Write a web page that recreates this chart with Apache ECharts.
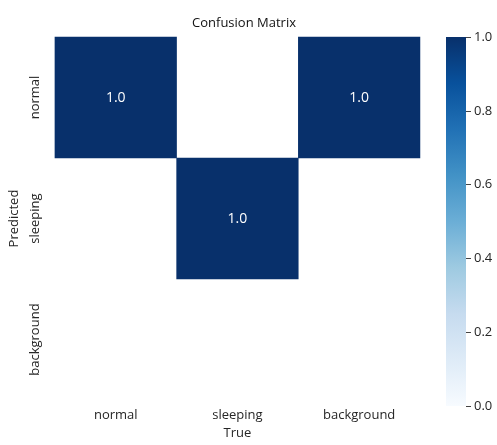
<!DOCTYPE html>
<html>
<head>
<meta charset="utf-8">
<style>
  html, body { margin: 0; padding: 0; background: #ffffff; }
  #chart { width: 497px; height: 445px; }
</style>
<script src="https://cdn.jsdelivr.net/npm/echarts@6/dist/echarts.min.js"></script>
</head>
<body>
<div id="chart"></div>
<script>
// Class names shared by both axes
const classes = ['normal', 'sleeping', 'background'];

// Normalised confusion matrix rows (predicted) x columns (true); empty cells are null
const rowNormal = [1.0, null, 1.0];
const rowSleeping = [null, 1.0, null];
const rowBackground = [null, null, null];
const matrix = [rowNormal, rowSleeping, rowBackground];

// Colour-bar ticks
const barTicks = [0, 0.2, 0.4, 0.6, 0.8, 1.0];

// "Blues" colour ramp
const blues = ['#f7fbff', '#deebf7', '#c6dbef', '#9ecae1', '#6baed6', '#4292c6', '#2171b5', '#08519c', '#08306b'];

const cells = [];
matrix.forEach((row, r) => {
  row.forEach((v, c) => {
    if (v !== null) cells.push([c, r, v]);
  });
});

const font = '"Open Sans", Lato, sans-serif';
const textColor = '#262626';

const chart = echarts.init(document.getElementById('chart'), null, { renderer: 'canvas' });

const gradientStops = blues.map((c, i) => ({ offset: 1 - i / (blues.length - 1), color: c }));

chart.setOption({
  animation: false,
  backgroundColor: '#ffffff',
  textStyle: { fontFamily: font },
  title: {
    text: 'Confusion Matrix',
    left: 239,
    top: 12,
    textAlign: 'center',
    textStyle: { fontFamily: font, fontSize: 13, fontWeight: 'normal', color: '#111' }
  },
  grid: [
    { left: 52, top: 37, width: 368, height: 369 },
    { left: 446, top: 37, width: 20, height: 369 }
  ],
  xAxis: [
    {
      type: 'category', gridIndex: 0, data: classes, position: 'bottom',
      axisLine: { show: false }, axisTick: { show: false }, splitLine: { show: false },
      axisLabel: { color: textColor, fontSize: 13, fontFamily: font, margin: 9 },
      name: 'True', nameLocation: 'middle', nameGap: 25,
      nameTextStyle: { color: textColor, fontSize: 13, fontFamily: font }
    },
    {
      type: 'category', gridIndex: 1, data: [''],
      axisLine: { show: false }, axisTick: { show: false }, axisLabel: { show: false }
    }
  ],
  yAxis: [
    {
      type: 'category', gridIndex: 0, data: classes, inverse: true,
      axisLine: { show: false }, axisTick: { show: false }, splitLine: { show: false },
      axisLabel: { color: textColor, fontSize: 13, fontFamily: font, rotate: 90, margin: 13 },
      name: 'Predicted', nameLocation: 'middle', nameGap: 22, nameRotate: 90,
      nameTextStyle: { color: textColor, fontSize: 13, fontFamily: font }
    },
    {
      type: 'value', gridIndex: 1, min: 0, max: 1, interval: 0.2, position: 'right',
      axisLine: { show: false }, splitLine: { show: false },
      axisTick: { show: true, length: 5, lineStyle: { color: '#444' } },
      axisLabel: {
        color: textColor, fontSize: 13, fontFamily: font, margin: 8,
        formatter: v => (barTicks.includes(+v.toFixed(1)) ? v.toFixed(1) : '')
      }
    }
  ],
  visualMap: {
    show: false, type: 'continuous', min: 0, max: 1, seriesIndex: 0,
    inRange: { color: blues }
  },
  series: [
    {
      type: 'heatmap', xAxisIndex: 0, yAxisIndex: 0, data: cells,
      label: {
        show: true, color: '#ffffff', fontSize: 14, fontFamily: font,
        formatter: p => p.value[2].toFixed(1)
      },
      itemStyle: { borderWidth: 0 }
    },
    {
      type: 'bar', xAxisIndex: 1, yAxisIndex: 1, data: [1], barWidth: '100%',
      itemStyle: { color: new echarts.graphic.LinearGradient(0, 0, 0, 1, gradientStops) },
      silent: true
    }
  ]
});
</script>
</body>
</html>
